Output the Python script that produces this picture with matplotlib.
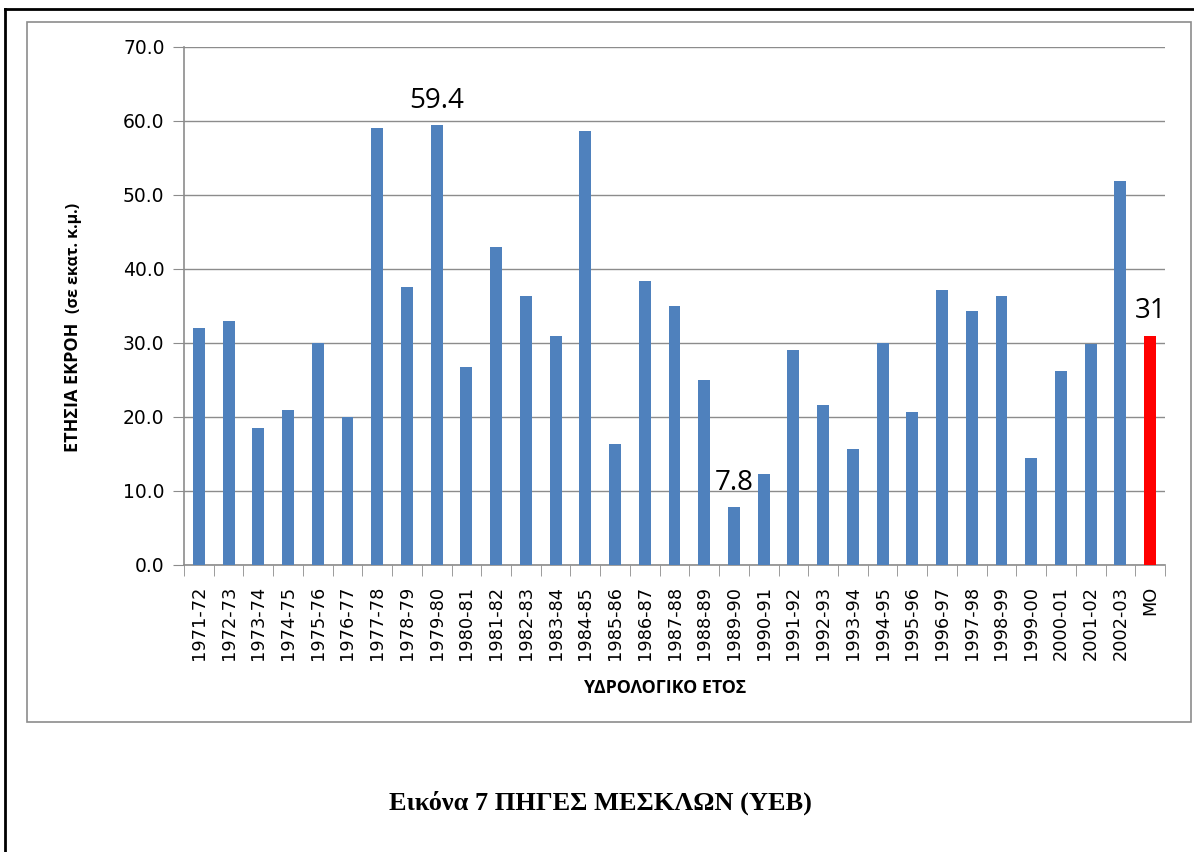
import matplotlib.pyplot as plt
from matplotlib.patches import Rectangle
from matplotlib.lines import Line2D

years = ['1971-72', '1972-73', '1973-74', '1974-75', '1975-76', '1976-77',
         '1977-78', '1978-79', '1979-80', '1980-81', '1981-82', '1982-83',
         '1983-84', '1984-85', '1985-86', '1986-87', '1987-88', '1988-89',
         '1989-90', '1990-91', '1991-92', '1992-93', '1993-94', '1994-95',
         '1995-96', '1996-97', '1997-98', '1998-99', '1999-00', '2000-01',
         '2001-02', '2002-03', 'ΜΟ']
outflow = [32.0, 33.0, 18.5, 21.0, 30.0, 20.0, 59.1, 37.6, 59.4, 26.8, 43.0,
           36.4, 30.9, 58.6, 16.4, 38.4, 35.0, 25.0, 7.8, 12.3, 29.1, 21.6,
           15.7, 30.0, 20.7, 37.2, 34.3, 36.4, 14.5, 26.2, 29.9, 51.9, 31.0]
labelled = {'1979-80': '59.4', '1989-90': '7.8', 'ΜΟ': '31'}

W, H = 1194, 852
fig = plt.figure(figsize=(W / 100, H / 100), dpi=100)

# outer page border (top and left) and grey chart frame
fig.add_artist(Line2D([5 / W, 5 / W], [0, 1 - 9 / H], color='black', lw=2,
                      transform=fig.transFigure))
fig.add_artist(Line2D([5 / W, 1], [1 - 9 / H, 1 - 9 / H], color='black', lw=2,
                      transform=fig.transFigure))
fig.add_artist(Rectangle((27 / W, 1 - 722 / H), (1191 - 27) / W, (722 - 22) / H,
                         fill=False, edgecolor='#8c8c8c', lw=1.2,
                         transform=fig.transFigure))

ax = fig.add_axes([184 / W, 1 - 565 / H, (1165 - 184) / W, (565 - 47) / H])

x = list(range(len(years)))
colors = ['#4F81BD'] * (len(years) - 1) + ['#FF0000']
ax.bar(x, outflow, width=0.4, color=colors, zorder=3)

for i, (yr, v) in enumerate(zip(years, outflow)):
    if yr in labelled:
        ax.text(i, v + 1.4, labelled[yr], ha='center', va='bottom',
                fontsize=20, family='Open Sans', color='black')

ax.set_xlim(-0.5, len(years) - 0.5)
ax.set_ylim(0, 70)
ax.set_yticks(range(0, 71, 10))
ax.set_yticklabels([f'{t:.1f}' for t in range(0, 71, 10)], fontsize=13.5)
ax.set_xticks(x)
ax.set_xticklabels(years, rotation=90, fontsize=12.8)
ax.set_xticks([i - 0.5 for i in range(len(years) + 1)], minor=True)
ax.tick_params(axis='x', which='major', length=0, pad=15)
ax.tick_params(axis='x', which='minor', length=8, color='#8c8c8c')
ax.tick_params(axis='y', length=8, color='#8c8c8c', pad=6)
ax.grid(axis='y', color='#8c8c8c', lw=1, zorder=0)
for s in ['top', 'right']:
    ax.spines[s].set_visible(False)
for s in ['left', 'bottom']:
    ax.spines[s].set_color('#8c8c8c')
    ax.spines[s].set_linewidth(1.2)

# y axis title in two sizes
fig.text(73 / W, 1 - 452 / H, 'ΕΤΗΣΙΑ ΕΚΡΟΗ', rotation=90, ha='center', va='bottom',
         fontsize=13, fontweight='bold', family='Open Sans')
fig.text(74 / W, 1 - 313 / H, '(σε εκατ. κ.μ.)', rotation=90, ha='center', va='bottom',
         fontsize=11.5, fontweight='bold', family='Open Sans')

fig.text(665 / W, 1 - 688 / H, 'ΥΔΡΟΛΟΓΙΚΟ ΕΤΟΣ', ha='center', va='center',
         fontsize=12.8, fontweight='bold', family='Open Sans')

fig.text(600 / W, 1 - 803 / H, 'Εικόνα 7 ΠΗΓΕΣ ΜΕΣΚΛΩΝ (ΥΕΒ)', ha='center', va='center',
         fontsize=19, fontweight='bold', family='Liberation Serif')

fig.savefig('out.png', dpi=100)
